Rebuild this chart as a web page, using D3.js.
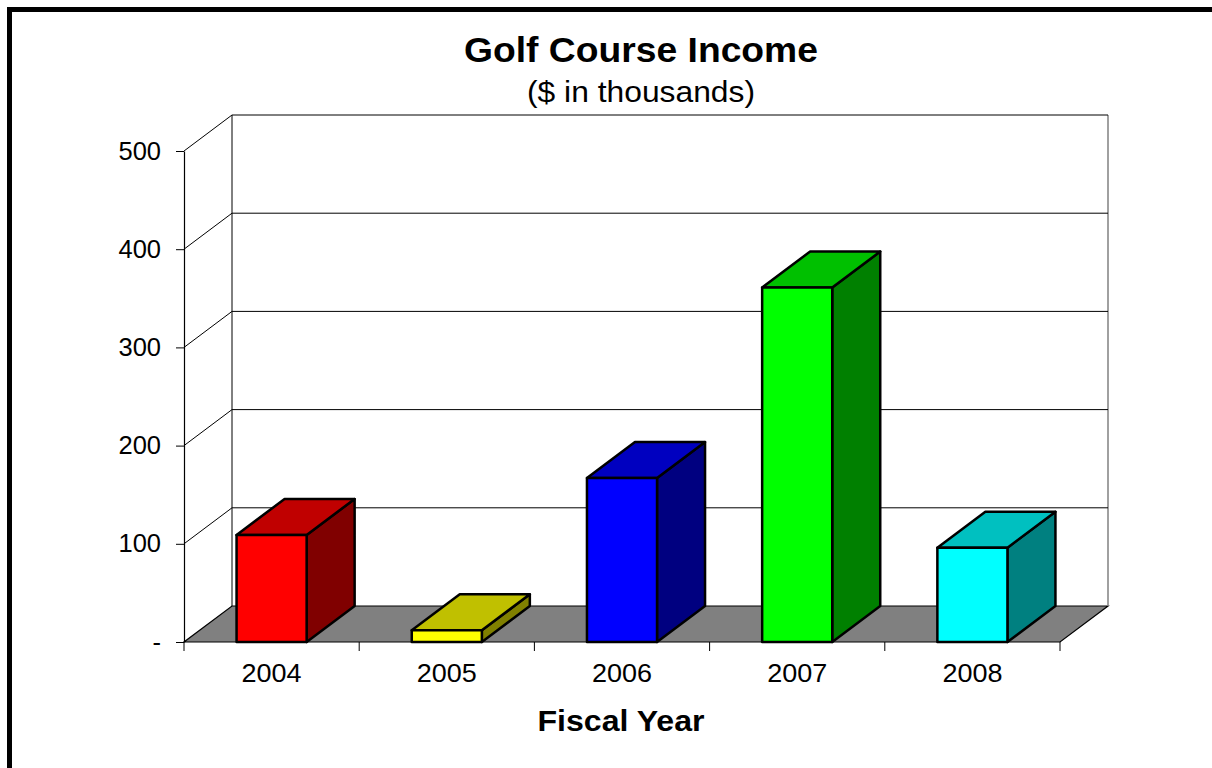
<!DOCTYPE html>
<html>
<head>
<meta charset="utf-8">
<script src="https://cdn.jsdelivr.net/npm/d3@7/dist/d3.min.js"></script>
<style>
  html, body { margin: 0; padding: 0; background: #fff; }
  svg { display: block; }
  text { font-family: "Liberation Sans", Arial, sans-serif; fill: #000; }
</style>
</head>
<body>
<svg id="chart" width="1212" height="768"></svg>
<script>
// ---- data ----
const years = ["2004", "2005", "2006", "2007", "2008"];
const income = [109, 12, 167, 361, 96];
const yTicks = [0, 100, 200, 300, 400, 500];
const frontColors = ["#ff0000", "#ffff00", "#0000ff", "#00ff00", "#00ffff"];
const topColors   = ["#c00000", "#c0c000", "#0000c0", "#00c000", "#00c0c0"];
const sideColors  = ["#800000", "#808000", "#000080", "#008000", "#008080"];
const titleText = "Golf Course Income";
const subtitleText = "($ in thousands)";
const xTitleText = "Fiscal Year";

// ---- layout ----
const W = 1212, H = 768;
const svg = d3.select("#chart");
const x0 = 184, x1 = 1060;          // front plane x extent
const dx = 48, dy = -36;            // depth offset
const y = d3.scaleLinear().domain([0, 500]).range([642, 151]);
const x = d3.scaleBand().domain(years).range([x0, x1]).paddingInner(0.6).paddingOuter(0.3);
const step = x.step();

// horizontally widened text helper (reference font is slightly wider)
function wideText(sel, cx, cy, size, weight, txt, sx) {
  return sel.append("text")
    .attr("transform", `translate(${cx},${cy}) scale(${sx},1)`)
    .attr("text-anchor", "middle").attr("font-size", size)
    .attr("font-weight", weight).text(txt);
}

// outer border
svg.append("rect").attr("x", 9.5).attr("y", 9.5).attr("width", W + 20).attr("height", H + 20)
  .attr("fill", "#fff").attr("stroke", "#000").attr("stroke-width", 5);

// titles
wideText(svg, 641, 62, 36, "bold", titleText, 1.035);
wideText(svg, 641, 102, 30, "normal", subtitleText, 1.06);

const g = svg.append("g");
const y0 = y(0), yTop = y(500);

// floor
g.append("path")
  .attr("d", `M${x0},${y0}L${x1},${y0}L${x1 + dx},${y0 + dy}L${x0 + dx},${y0 + dy}Z`)
  .attr("fill", "#808080").attr("stroke", "#000").attr("stroke-width", 1.2);

// walls: back-left vertical, right edge
g.append("line").attr("x1", x0 + dx).attr("x2", x0 + dx).attr("y1", y0 + dy).attr("y2", yTop + dy)
  .attr("stroke", "#000").attr("stroke-width", 1);
g.append("line").attr("x1", x1 + dx).attr("x2", x1 + dx).attr("y1", y0 + dy).attr("y2", yTop + dy)
  .attr("stroke", "#808080").attr("stroke-width", 1.5);

// gridlines (left wall diagonal + back wall horizontal)
yTicks.filter(v => v > 0).forEach(v => {
  g.append("path")
    .attr("d", `M${x0},${y(v)}L${x0 + dx},${y(v) + dy}L${x1 + dx},${y(v) + dy}`)
    .attr("fill", "none").attr("stroke", "#000").attr("stroke-width", 1);
});

// y axis
const yAxis = d3.axisLeft(y).tickValues(yTicks).tickSize(8).tickSizeOuter(0).tickPadding(15)
  .tickFormat(d => d === 0 ? "-" : d);
const ya = g.append("g").attr("transform", `translate(${x0},0)`).call(yAxis);
ya.select(".domain").attr("stroke", "#000").attr("stroke-width", 1.2);
ya.selectAll(".tick line").attr("stroke", "#000");
ya.selectAll(".tick text").attr("font-size", 25.5).attr("font-family", "Liberation Sans, Arial, sans-serif").attr("fill", "#000");

// x axis tick marks at category boundaries
d3.range(years.length + 1).forEach(i => {
  const xx = x0 + i * step;
  g.append("line").attr("x1", xx).attr("x2", xx).attr("y1", y0).attr("y2", y0 + 9)
    .attr("stroke", "#000").attr("stroke-width", 1);
});
// x labels
years.forEach(yr => {
  wideText(g, x(yr) + x.bandwidth() / 2, 682, 25, "normal", yr, 1.08);
});

// bars
const bars = g.append("g");
years.forEach((yr, i) => {
  const v = income[i];
  const xl = x(yr), xr = xl + x.bandwidth(), yt = y(v);
  const bg = bars.append("g").attr("stroke", "#000").attr("stroke-width", 2.5).attr("stroke-linejoin", "round");
  bg.append("path").attr("fill", sideColors[i])
    .attr("d", `M${xr},${yt}L${xr + dx},${yt + dy}L${xr + dx},${y0 + dy}L${xr},${y0}Z`);
  bg.append("path").attr("fill", topColors[i])
    .attr("d", `M${xl},${yt}L${xr},${yt}L${xr + dx},${yt + dy}L${xl + dx},${yt + dy}Z`);
  bg.append("rect").attr("fill", frontColors[i])
    .attr("x", xl).attr("y", yt).attr("width", xr - xl).attr("height", y0 - yt);
});

// x axis title
wideText(svg, 621, 731, 30, "bold", xTitleText, 1.07);
</script>
</body>
</html>
